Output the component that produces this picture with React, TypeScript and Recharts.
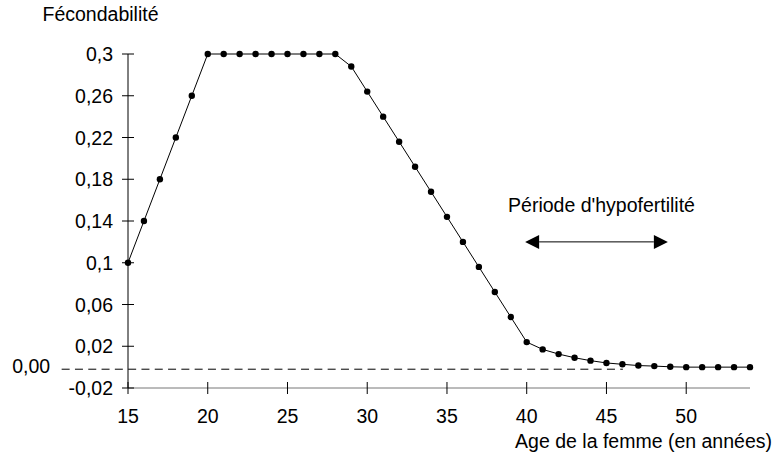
import React from "react";
import { LineChart, Line, XAxis, YAxis, ReferenceLine, Customized } from "recharts";

const ages = [15,16,17,18,19,20,21,22,23,24,25,26,27,28,29,30,31,32,33,34,35,36,37,38,39,40,41,42,43,44,45,46,47,48,49,50,51,52,53,54];
const fecondabilite = [0.1,0.14,0.18,0.22,0.26,0.3,0.3,0.3,0.3,0.3,0.3,0.3,0.3,0.3,0.288,0.264,0.24,0.216,0.192,0.168,0.144,0.12,0.096,0.072,0.048,0.024,0.017,0.0125,0.009,0.0062,0.004,0.0027,0.0015,0.001,0.0003,0,0,0,0,0];
const xTicks = [15,20,25,30,35,40,45,50];
const yTicks = [-0.02,0.02,0.06,0.1,0.14,0.18,0.22,0.26,0.3];
const xDomain = [15, 54];
const yDomain = [-0.02, 0.3];
// annotations (data space)
const zeroLine = { x1: 10.84, x2: 46.03, y: -0.002, label: "0,00" };
const arrow = { x1: 39.9, x2: 48.85, y: 0.12, label: "Période d'hypofertilité" };
const yTitle = "Fécondabilité";
const xTitle = "Age de la femme (en années)";

const data = ages.map((a, i) => ({ age: a, f: fecondabilite[i] }));

const FONT = "'Liberation Sans', Arial, sans-serif";
const FS = 19.5;
const TICK_SIZE = 6;
const TICK_MARGIN = 2;

const fmt = (v: number) => String(v).replace(".", ",");

const YTick = (props: any) => {
  const { x, y, payload } = props;
  const ax = x + TICK_SIZE + TICK_MARGIN;
  return (
    <g>
      <line x1={ax - 6} x2={ax + 6} y1={y} y2={y} stroke="#000" strokeWidth={1} />
      <text x={ax - 15} y={y} dy="0.36em" textAnchor="end" fontFamily={FONT} fontSize={FS} fill="#000">
        {fmt(payload.value)}
      </text>
    </g>
  );
};

const XTick = (props: any) => {
  const { x, y, payload } = props;
  const ay = y - TICK_SIZE - TICK_MARGIN;
  return (
    <g>
      <line x1={x} x2={x} y1={ay - 6} y2={ay + 6} stroke="#000" strokeWidth={1} />
      <text x={x} y={ay + 34.5} textAnchor="middle" fontFamily={FONT} fontSize={FS} fill="#000">
        {payload.value}
      </text>
    </g>
  );
};

const ZeroShape = (props: any) => {
  const { x1, y1, x2, y2 } = props;
  return (
    <g>
      <line x1={x1} y1={y1} x2={x2} y2={y2} stroke="#000" strokeWidth={1} strokeDasharray="8 5.3" />
      <text x={x1 - 11.5} y={y1 - 3.5} dy="0.36em" textAnchor="end" fontFamily={FONT} fontSize={FS} fill="#000">
        {zeroLine.label}
      </text>
    </g>
  );
};

const ArrowShape = (props: any) => {
  const { x1, y1, x2, y2 } = props;
  const h = 14;
  const w = 7;
  const mid = (x1 + x2) / 2;
  return (
    <g>
      <line x1={x1 + h} y1={y1} x2={x2 - h} y2={y2} stroke="#000" strokeWidth={1} />
      <polygon points={`${x1},${y1} ${x1 + h},${y1 - w} ${x1 + h},${y1 + w}`} fill="#000" />
      <polygon points={`${x2},${y2} ${x2 - h},${y2 - w} ${x2 - h},${y2 + w}`} fill="#000" />
      <text x={mid + 5} y={y1 - 30} textAnchor="middle" fontFamily={FONT} fontSize={FS} fill="#000">
        {arrow.label}
      </text>
    </g>
  );
};

const Titles = () => (
  <g>
    <text x={42.5} y={21} fontFamily={FONT} fontSize={FS} fill="#000">{yTitle}</text>
    <text x={772} y={448} textAnchor="end" fontFamily={FONT} fontSize={FS} fill="#000">{xTitle}</text>
  </g>
);

export default function App() {
  return (
    <div style={{ position: "absolute", left: 0, top: 0, width: 776, height: 456, background: "#fff" }}>
      <LineChart width={776} height={456} data={data} margin={{ top: 54, right: 26, bottom: 38, left: 68 }}>
        <XAxis
          dataKey="age"
          type="number"
          domain={xDomain}
          ticks={xTicks}
          height={30}
          tickSize={TICK_SIZE}
          tickMargin={TICK_MARGIN}
          tickLine={false}
          axisLine={{ stroke: "#777", strokeWidth: 1 }}
          tick={<XTick />}
          interval={0}
        />
        <YAxis
          type="number"
          domain={yDomain}
          ticks={yTicks}
          width={60}
          tickSize={TICK_SIZE}
          tickMargin={TICK_MARGIN}
          tickLine={false}
          axisLine={{ stroke: "#000", strokeWidth: 1 }}
          tick={<YTick />}
          interval={0}
        />
        <ReferenceLine
          segment={[{ x: zeroLine.x1, y: zeroLine.y }, { x: zeroLine.x2, y: zeroLine.y }]}
          ifOverflow="visible"
          shape={<ZeroShape />}
        />
        <ReferenceLine
          segment={[{ x: arrow.x1, y: arrow.y }, { x: arrow.x2, y: arrow.y }]}
          ifOverflow="visible"
          shape={<ArrowShape />}
        />
        <Line
          dataKey="f"
          type="linear"
          stroke="#000"
          strokeWidth={1}
          dot={{ r: 3.2, fill: "#000", stroke: "#000", strokeWidth: 0 }}
          activeDot={false}
          isAnimationActive={false}
        />
        <Customized component={<Titles />} />
      </LineChart>
    </div>
  );
}
